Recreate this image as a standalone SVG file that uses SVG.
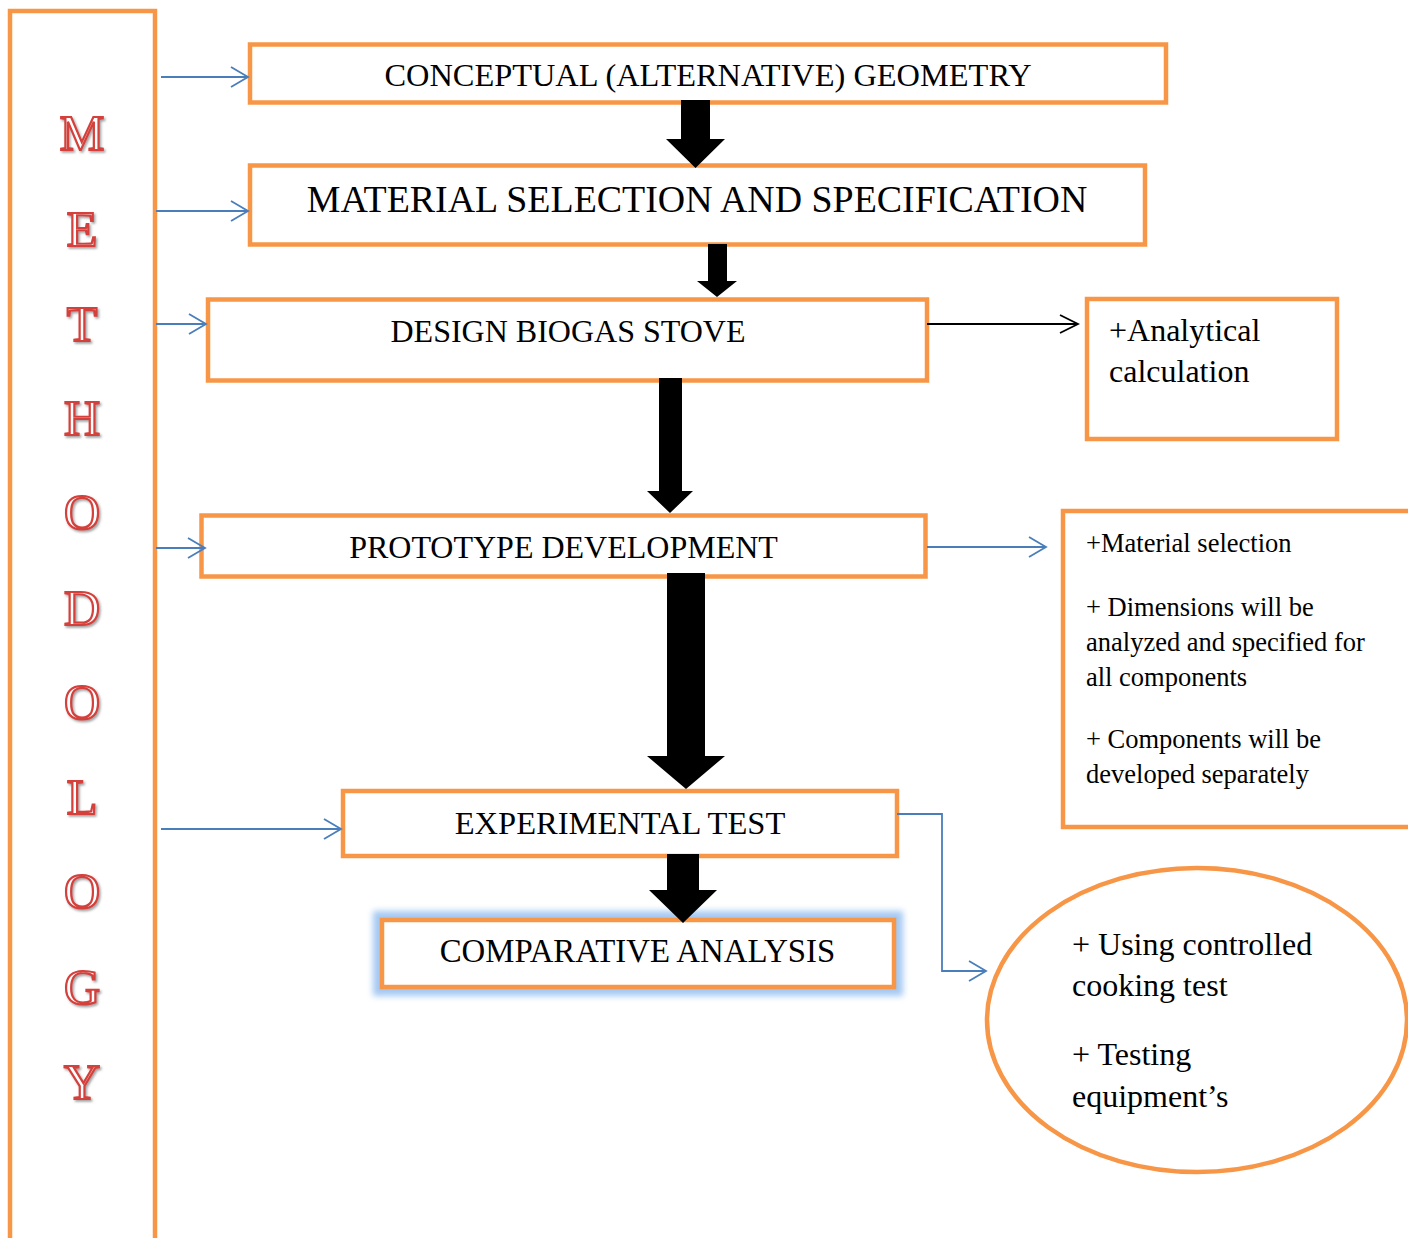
<svg xmlns="http://www.w3.org/2000/svg" width="1408" height="1238" viewBox="0 0 1408 1238">
<defs>
<style>
.box{fill:#fff;stroke:#F79646;stroke-width:4.5}
.t{font-family:"Liberation Serif","Times New Roman",serif;fill:#000}
.c{text-anchor:middle}
.blue{fill:none;stroke:#4A7EBB;stroke-width:1.8}
.blk{fill:none;stroke:#000;stroke-width:1.8}
.big{fill:#000}
.let{font-family:"Liberation Serif","Times New Roman",serif;font-size:50px;text-anchor:middle;fill:#fff;stroke:#D43F3A;stroke-width:2.2;filter:url(#sh)}
</style>
<filter id="sh" x="-30%" y="-30%" width="160%" height="160%">
<feDropShadow dx="1.5" dy="1.8" stdDeviation="1" flood-color="#555" flood-opacity="0.55"/>
</filter>
<filter id="glow" x="-10%" y="-40%" width="120%" height="180%">
<feGaussianBlur stdDeviation="3"/>
</filter>
<marker id="ab" markerUnits="userSpaceOnUse" markerWidth="22" markerHeight="26" viewBox="-20 -13 22 26" refX="0" refY="0" orient="auto">
<path d="M-17,-10 L0,0 L-17,10" fill="none" stroke="#4A7EBB" stroke-width="1.8"/>
</marker>
<marker id="ak" markerUnits="userSpaceOnUse" markerWidth="22" markerHeight="26" viewBox="-20 -13 22 26" refX="0" refY="0" orient="auto">
<path d="M-18,-9 L0,0 L-18,9" fill="none" stroke="#000" stroke-width="1.8"/>
</marker>
</defs>
<rect width="1408" height="1238" fill="#fff"/>

<g id="methodology">
<rect class="box" x="10" y="11" width="145" height="1250"/>
<text class="let" x="82" y="150">M</text>
<text class="let" x="82" y="246">E</text>
<text class="let" x="82" y="341">T</text>
<text class="let" x="82" y="435">H</text>
<text class="let" x="82" y="529">O</text>
<text class="let" x="82" y="625">D</text>
<text class="let" x="82" y="719">O</text>
<text class="let" x="82" y="814">L</text>
<text class="let" x="82" y="908">O</text>
<text class="let" x="82" y="1004">G</text>
<text class="let" x="82" y="1099">Y</text>
</g>

<g id="conceptual">
<rect class="box" x="250" y="44.5" width="916" height="58"/>
<text class="t c" x="708" y="86" font-size="32.4">CONCEPTUAL (ALTERNATIVE) GEOMETRY</text>
</g>

<g id="material">
<rect class="box" x="250" y="165.5" width="895" height="79"/>
<text class="t c" x="697" y="212" font-size="37.9">MATERIAL SELECTION AND SPECIFICATION</text>
</g>

<g id="design">
<rect class="box" x="208" y="299.5" width="719" height="81"/>
<text class="t c" x="568" y="342" font-size="32">DESIGN BIOGAS STOVE</text>
</g>

<g id="analytical">
<rect class="box" x="1087" y="299" width="250" height="140"/>
<text class="t" x="1109" y="341" font-size="32">+Analytical</text>
<text class="t" x="1109" y="382" font-size="32">calculation</text>
</g>

<g id="prototype">
<rect class="box" x="201.5" y="515.5" width="724" height="61"/>
<text class="t c" x="563.5" y="558" font-size="32">PROTOTYPE DEVELOPMENT</text>
</g>

<g id="details">
<rect class="box" x="1063" y="511" width="360" height="316"/>
<text class="t" x="1086" y="552" font-size="26.5">+Material selection</text>
<text class="t" x="1086" y="616" font-size="26.5">+ Dimensions will be</text>
<text class="t" x="1086" y="651" font-size="26.5">analyzed and specified for</text>
<text class="t" x="1086" y="686" font-size="26.5">all components</text>
<text class="t" x="1086" y="748" font-size="26.5">+ Components will be</text>
<text class="t" x="1086" y="783" font-size="26.5">developed separately</text>
</g>

<g id="experimental">
<rect class="box" x="343" y="791" width="554" height="65"/>
<text class="t c" x="620" y="834" font-size="32.5">EXPERIMENTAL TEST</text>
</g>

<g id="comparative">
<rect x="382" y="920" width="512" height="67" fill="none" stroke="#A4C8F2" stroke-width="18" filter="url(#glow)"/>
<rect class="box" x="382" y="920" width="512" height="67"/>
<text class="t c" x="637.5" y="962" font-size="32.8">COMPARATIVE ANALYSIS</text>
</g>

<g id="testing">
<ellipse cx="1197" cy="1020" rx="210" ry="152" fill="#fff" stroke="#F79646" stroke-width="4.5"/>
<text class="t" x="1072" y="955" font-size="32">+ Using controlled</text>
<text class="t" x="1072" y="996" font-size="32">cooking test</text>
<text class="t" x="1072" y="1065" font-size="32">+ Testing</text>
<text class="t" x="1072" y="1107" font-size="32">equipment’s</text>
</g>

<g id="connectors">
<path class="big" d="M681,100 H710 V139 H725 L695.5,168 L666,139 H681 Z"/>
<path class="big" d="M708,244 H727 V281 H737 L717,297 L697,281 H708 Z"/>
<path class="big" d="M659,378 H682 V491 H693 L670,513 L647,491 H659 Z"/>
<path class="big" d="M667,573 H705 V756 H725 L686,789 L647,756 H667 Z"/>
<path class="big" d="M667,854 H699 V890 H717 L683,923 L649,890 H667 Z"/>
<line class="blue" x1="161" y1="77" x2="248" y2="77" marker-end="url(#ab)"/>
<line class="blue" x1="156" y1="211" x2="248" y2="211" marker-end="url(#ab)"/>
<line class="blue" x1="156" y1="324" x2="206" y2="324" marker-end="url(#ab)"/>
<line class="blue" x1="156" y1="548" x2="205" y2="548" marker-end="url(#ab)"/>
<line class="blue" x1="161" y1="829" x2="341" y2="829" marker-end="url(#ab)"/>
<line class="blue" x1="927" y1="547" x2="1046" y2="547" marker-end="url(#ab)"/>
<path class="blue" d="M897,814 H942 V971 H986" marker-end="url(#ab)"/>
<line class="blk" x1="927" y1="324" x2="1078" y2="324" marker-end="url(#ak)"/>
</g>
</svg>
